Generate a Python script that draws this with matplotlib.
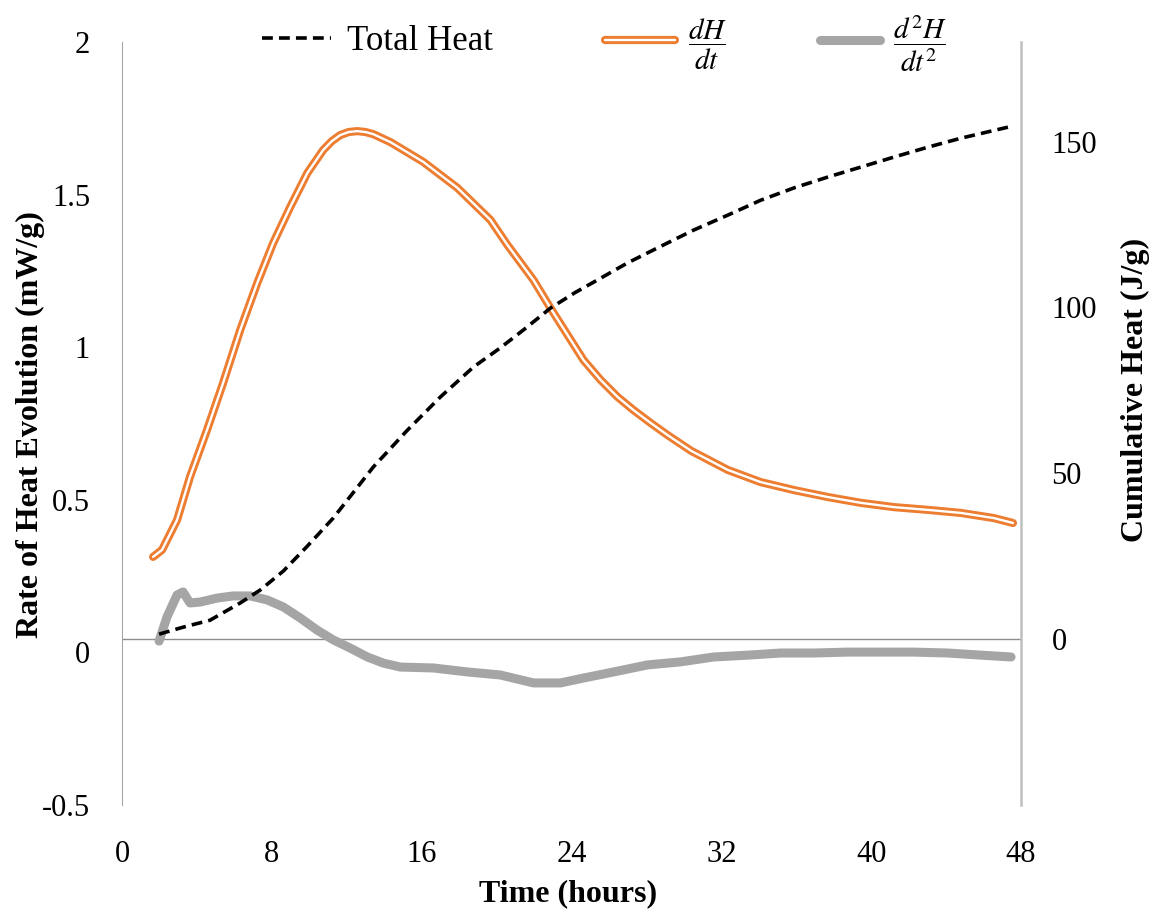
import matplotlib
matplotlib.use('Agg')
import matplotlib.pyplot as plt
import matplotlib.patheffects as pe

plt.rcParams['font.family'] = ['Liberation Serif', 'DejaVu Serif']
plt.rcParams['mathtext.fontset'] = 'stix'

# dH/dt  (mW/g), left axis
t_rate = [1.66, 2.14, 2.94, 3.63, 4.54, 5.40, 6.31, 7.22, 8.07, 8.98, 9.90, 10.74,
          11.20, 11.65, 12.10, 12.56, 13.00, 13.42, 14.33, 15.20, 16.09, 17.91, 19.67,
          20.58, 21.97, 22.88, 23.79, 24.64, 25.55, 26.46, 27.31, 28.22, 29.13, 30.40,
          32.34, 34.10, 35.87, 37.69, 39.45, 41.21, 43.03, 44.79, 46.56, 47.57]
rate = [0.313, 0.336, 0.434, 0.575, 0.729, 0.883, 1.056, 1.210, 1.341, 1.459, 1.571, 1.646,
        1.675, 1.695, 1.705, 1.708, 1.705, 1.698, 1.672, 1.640, 1.607, 1.522, 1.417,
        1.335, 1.220, 1.128, 1.040, 0.958, 0.893, 0.837, 0.794, 0.752, 0.712, 0.660,
        0.598, 0.558, 0.532, 0.509, 0.490, 0.476, 0.467, 0.457, 0.440, 0.424]

# d2H/dt2, left axis
t_acc = [1.98, 2.40, 2.94, 3.26, 3.63, 4.17, 5.08, 5.93, 6.84, 7.75, 8.61, 9.51, 10.42,
         11.28, 12.19, 13.10, 13.95, 14.86, 16.62, 18.44, 20.20, 21.97, 23.41, 24.64,
         26.25, 28.06, 29.83, 31.59, 33.41, 35.17, 36.94, 38.75, 40.52, 42.28, 44.10,
         45.86, 47.47]
acc = [0.037, 0.116, 0.188, 0.198, 0.162, 0.165, 0.178, 0.185, 0.185, 0.172, 0.149, 0.113, 0.073,
       0.041, 0.014, -0.015, -0.035, -0.048, -0.051, -0.064, -0.074, -0.100, -0.100, -0.084,
       -0.064, -0.041, -0.031, -0.015, -0.009, -0.002, -0.002, 0.001, 0.001, 0.001, -0.002,
       -0.009, -0.015]

# Total heat (J/g), right axis
t_heat = [1.98, 3.26, 4.70, 6.31, 7.38, 8.61, 9.89, 11.28, 13.42, 15.24, 17.00, 18.76,
          20.20, 21.50, 22.88, 24.20, 25.18, 26.99, 28.76, 30.52, 32.34, 34.10, 35.87, 37.69,
          39.45, 41.21, 43.03, 44.79, 47.36]
heat = [1.5, 3.6, 5.7, 10.9, 14.8, 20.5, 28.0, 36.5, 51.9, 63.0, 73.0, 82.0,
        87.8, 93.5, 99.8, 104.5, 107.6, 113.4, 118.4, 123.3, 127.8, 132.3, 136.0, 139.3,
        142.3, 145.3, 148.3, 151.0, 154.4]

x_ticks = [0, 8, 16, 24, 32, 40, 48]
left_ticks = [-0.5, 0, 0.5, 1, 1.5, 2]
left_labels = ['-0.5', '0', '0.5', '1', '1.5', '2']
right_ticks = [0, 50, 100, 150]

orange = '#ED7D31'
grey = '#A5A5A5'
axis_grey = '#A6A6A6'

fig = plt.figure(figsize=(11.65, 9.16), dpi=100)
ax = fig.add_axes([122/1165, 1 - 805/916, 899/1165, 763/916])
ax2 = ax.twinx()

ax.set_xlim(0, 48)
ax.set_ylim(-0.5, 2)
ax2.set_ylim(-50, 180)

# zero line of the cumulative axis, drawn under the curves
ax.plot([0, 48], [0, 0], color='#8C8C8C', lw=1.0, transform=ax2.transData, zorder=1)

l_acc, = ax.plot(t_acc, acc, color=grey, lw=6.5, solid_capstyle='round',
                 solid_joinstyle='round', zorder=2)
# double ("compound") orange line: white core on a wide orange stroke
l_rate, = ax.plot(t_rate, rate, color='white', lw=1.7, solid_capstyle='round',
                  solid_joinstyle='round', zorder=3,
                  path_effects=[pe.Stroke(linewidth=5.9, foreground=orange,
                                          capstyle='round', joinstyle='round'),
                                pe.Normal()])
l_heat, = ax2.plot(t_heat, heat, color='black', lw=2.6, dashes=(3.0, 1.7))

ax.set_xticks(x_ticks)
ax.set_yticks(left_ticks)
ax.set_yticklabels(left_labels)
ax2.set_yticks(right_ticks)
ax.tick_params(axis='x', length=0, pad=25, labelsize=22)
ax.tick_params(axis='y', length=0, pad=23, labelsize=22)
ax2.tick_params(axis='y', length=0, pad=22, labelsize=22)

for a in (ax, ax2):
    a.spines['top'].set_visible(False)
    a.spines['bottom'].set_visible(False)
ax.spines['right'].set_visible(False)
ax2.spines['left'].set_visible(False)
ax.spines['left'].set_color(axis_grey)
ax2.spines['right'].set_color('#BFBFBF')
ax2.spines['right'].set_linewidth(1.8)

fig.text(568/1165, 1 - 894/916, 'Time (hours)', fontsize=23, fontweight='bold',
         ha='center', va='center')
fig.text(30/1165, 1 - 425/916, 'Rate of Heat Evolution (mW/g)', fontsize=23,
         fontweight='bold', rotation=90, ha='center', va='center')
fig.text(1135/1165, 1 - 390/916, 'Cumulative Heat (J/g)', fontsize=23,
         fontweight='bold', rotation=90, ha='center', va='center')

# legend entries, placed one by one along the top
entries = [
    (l_heat, 'Total Heat', 262, 42, 25, 2.0),
    (l_rate, r'$\dfrac{dH}{dt}$', 605, 44, 21, 2.4),
    (l_acc, r'$\dfrac{d^2H}{dt^2}$', 820, 44, 21, 2.05),
]
for h, lab, x0, y0, fs, hl in entries:
    fig.legend(handles=[h], labels=[lab], loc='center left',
               bbox_to_anchor=(x0/1165, 1 - y0/916), frameon=False, fontsize=fs,
               borderpad=0, borderaxespad=0, handlelength=hl, handletextpad=0.45)

fig.savefig('out.png', dpi=100)
